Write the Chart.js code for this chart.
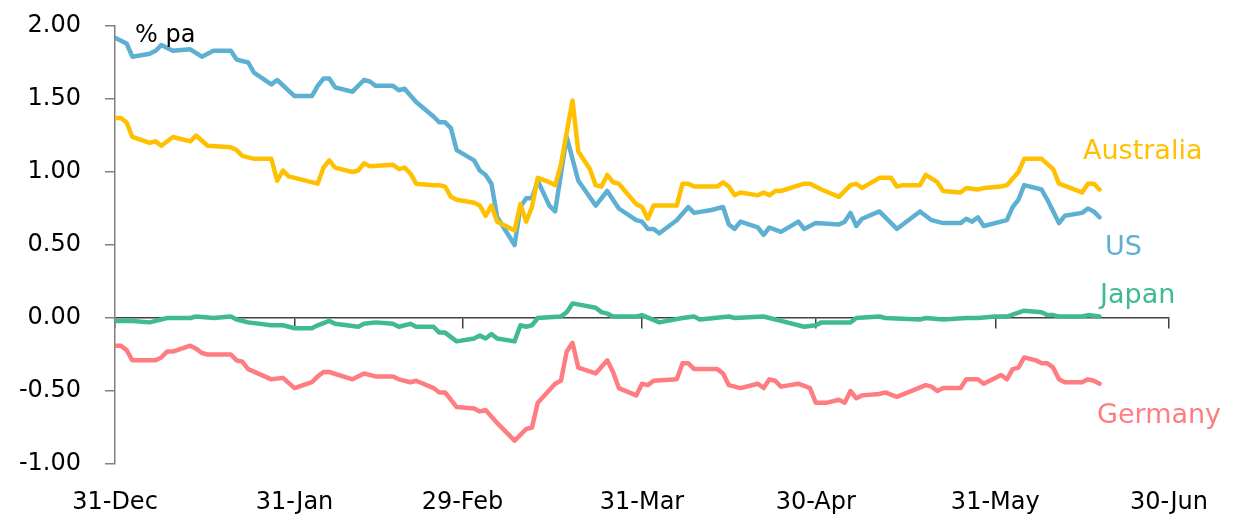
<!DOCTYPE html>
<html>
<head>
<meta charset="utf-8">
<script src="https://cdn.jsdelivr.net/npm/chart.js@4.4.1/dist/chart.umd.min.js"></script>
<style>
  html, body { margin: 0; padding: 0; background: #fff; }
  #wrap { width: 1233px; height: 516px; }
</style>
</head>
<body>
<div id="wrap"><canvas id="yieldChart"></canvas></div>
<script>
// x values are days since 31-Dec
const tickDays = [0, 31, 60, 91, 121, 152, 182];
const tickLabels = ['31-Dec', '31-Jan', '29-Feb', '31-Mar', '30-Apr', '31-May', '30-Jun'];

const usDays = [0, 2, 3, 6, 7, 8, 10, 13, 15, 17, 20, 21, 23, 24, 27, 28, 31, 34, 35, 36, 37, 38, 41, 43, 44, 45, 48, 49, 50, 52, 55, 56, 57, 58, 59, 62, 63, 64, 65, 66, 69, 70, 71, 72, 73, 75, 76, 78, 80, 83, 85, 87, 90, 91, 92, 93, 94, 97, 99, 100, 103, 105, 106, 107, 108, 111, 112, 113, 115, 118, 119, 121, 125, 126, 127, 128, 129, 132, 135, 139, 141, 143, 146, 147, 148, 149, 150, 154, 155, 156, 157, 160, 161, 163, 164, 167, 168, 169, 170];
const usYields = [1.92, 1.88, 1.79, 1.81, 1.83, 1.87, 1.83, 1.84, 1.79, 1.83, 1.83, 1.77, 1.75, 1.68, 1.60, 1.63, 1.52, 1.52, 1.59, 1.64, 1.64, 1.58, 1.55, 1.63, 1.62, 1.59, 1.59, 1.56, 1.57, 1.48, 1.38, 1.34, 1.34, 1.30, 1.15, 1.08, 1.01, 0.98, 0.92, 0.69, 0.50, 0.76, 0.82, 0.82, 0.94, 0.77, 0.73, 1.24, 0.94, 0.77, 0.87, 0.75, 0.67, 0.66, 0.61, 0.61, 0.58, 0.67, 0.76, 0.72, 0.74, 0.76, 0.64, 0.61, 0.66, 0.62, 0.57, 0.62, 0.59, 0.66, 0.61, 0.65, 0.64, 0.66, 0.72, 0.63, 0.68, 0.73, 0.61, 0.73, 0.67, 0.65, 0.65, 0.68, 0.66, 0.69, 0.63, 0.67, 0.76, 0.81, 0.91, 0.88, 0.81, 0.65, 0.70, 0.72, 0.75, 0.73, 0.69];

const ausDays = [0, 1, 2, 3, 6, 7, 8, 10, 13, 14, 16, 20, 21, 22, 24, 27, 28, 29, 30, 35, 36, 37, 38, 41, 42, 43, 44, 48, 49, 50, 51, 52, 55, 56, 57, 58, 59, 62, 63, 64, 65, 66, 69, 70, 71, 72, 73, 75, 76, 77, 79, 80, 82, 83, 84, 85, 86, 87, 90, 91, 92, 93, 97, 98, 99, 100, 104, 105, 106, 107, 108, 111, 112, 113, 114, 115, 119, 120, 122, 125, 127, 128, 129, 132, 134, 135, 136, 139, 140, 142, 143, 146, 147, 149, 150, 153, 154, 156, 157, 160, 162, 163, 167, 168, 169, 170];
const ausYields = [1.37, 1.37, 1.34, 1.24, 1.20, 1.21, 1.18, 1.24, 1.21, 1.25, 1.18, 1.17, 1.15, 1.11, 1.09, 1.09, 0.94, 1.01, 0.97, 0.92, 1.03, 1.08, 1.03, 1.00, 1.01, 1.06, 1.04, 1.05, 1.02, 1.03, 0.99, 0.92, 0.91, 0.91, 0.90, 0.83, 0.81, 0.79, 0.77, 0.70, 0.77, 0.66, 0.60, 0.78, 0.66, 0.76, 0.96, 0.93, 0.91, 1.05, 1.49, 1.14, 1.02, 0.91, 0.90, 0.98, 0.93, 0.92, 0.78, 0.76, 0.68, 0.77, 0.77, 0.92, 0.92, 0.90, 0.90, 0.93, 0.90, 0.84, 0.86, 0.84, 0.86, 0.84, 0.87, 0.87, 0.92, 0.92, 0.88, 0.83, 0.91, 0.92, 0.89, 0.96, 0.96, 0.90, 0.91, 0.91, 0.98, 0.93, 0.87, 0.86, 0.89, 0.88, 0.89, 0.90, 0.91, 1.00, 1.09, 1.09, 1.02, 0.92, 0.86, 0.92, 0.92, 0.88];

const jpDays = [0, 3, 6, 7, 9, 13, 14, 17, 20, 21, 23, 27, 29, 31, 34, 35, 37, 38, 42, 43, 45, 48, 49, 51, 52, 55, 56, 57, 59, 62, 63, 64, 65, 66, 69, 70, 71, 72, 73, 77, 78, 79, 83, 84, 85, 86, 90, 91, 94, 98, 100, 101, 106, 107, 112, 113, 115, 119, 121, 122, 127, 128, 132, 133, 139, 140, 143, 147, 149, 152, 154, 157, 160, 161, 162, 163, 167, 168, 170];
const jpYields = [-0.02, -0.02, -0.03, -0.02, 0.00, 0.00, 0.01, 0.00, 0.01, -0.01, -0.03, -0.05, -0.05, -0.07, -0.07, -0.05, -0.02, -0.04, -0.06, -0.04, -0.03, -0.04, -0.06, -0.04, -0.06, -0.06, -0.10, -0.10, -0.16, -0.14, -0.12, -0.14, -0.11, -0.14, -0.16, -0.05, -0.06, -0.05, 0.00, 0.01, 0.04, 0.10, 0.07, 0.04, 0.03, 0.01, 0.01, 0.02, -0.03, 0.00, 0.01, -0.01, 0.01, 0.00, 0.01, 0.00, -0.02, -0.06, -0.05, -0.03, -0.03, 0.00, 0.01, 0.00, -0.01, 0.00, -0.01, 0.00, 0.00, 0.01, 0.01, 0.05, 0.04, 0.02, 0.02, 0.01, 0.01, 0.02, 0.01];

const deDays = [0, 1, 2, 3, 7, 8, 9, 10, 13, 14, 15, 16, 20, 21, 22, 23, 27, 29, 31, 34, 35, 36, 37, 41, 43, 45, 48, 49, 51, 52, 55, 56, 57, 59, 62, 63, 64, 66, 69, 71, 72, 73, 76, 77, 78, 79, 80, 83, 85, 86, 87, 90, 91, 92, 93, 97, 98, 99, 100, 104, 105, 106, 108, 111, 112, 113, 114, 115, 118, 120, 121, 123, 125, 126, 127, 128, 129, 132, 133, 135, 140, 141, 142, 143, 146, 147, 149, 150, 153, 154, 155, 156, 157, 159, 160, 161, 162, 163, 164, 167, 168, 169, 170];
const deYields = [-0.19, -0.19, -0.22, -0.29, -0.29, -0.27, -0.23, -0.23, -0.19, -0.21, -0.24, -0.25, -0.25, -0.29, -0.30, -0.35, -0.42, -0.41, -0.48, -0.44, -0.40, -0.37, -0.37, -0.42, -0.38, -0.40, -0.40, -0.42, -0.44, -0.43, -0.48, -0.51, -0.51, -0.61, -0.62, -0.64, -0.63, -0.72, -0.84, -0.76, -0.75, -0.58, -0.45, -0.43, -0.23, -0.17, -0.34, -0.38, -0.29, -0.37, -0.48, -0.53, -0.45, -0.46, -0.43, -0.42, -0.31, -0.31, -0.35, -0.35, -0.38, -0.46, -0.48, -0.45, -0.48, -0.42, -0.43, -0.47, -0.45, -0.48, -0.58, -0.58, -0.56, -0.58, -0.50, -0.55, -0.53, -0.52, -0.51, -0.54, -0.46, -0.47, -0.50, -0.48, -0.48, -0.42, -0.42, -0.45, -0.39, -0.42, -0.35, -0.34, -0.27, -0.29, -0.31, -0.31, -0.34, -0.42, -0.44, -0.44, -0.42, -0.43, -0.45];

const toPoints = (days, vals) => days.map((d, i) => ({ x: d, y: vals[i] }));

const FONT = '"DejaVu Sans", sans-serif';

// series names written at the right-hand end of the chart
const seriesLabels = {
    id: 'seriesLabels',
    afterDraw(chart) {
        const ctx = chart.ctx;
        ctx.save();
        ctx.textBaseline = 'alphabetic';
        ctx.textAlign = 'left';
        ctx.font = '27px ' + FONT;
        const items = [
            ['Australia', '#ffc000', 1083, 159],
            ['US', '#5eb0d3', 1105, 255],
            ['Japan', '#3fba92', 1100, 303],
            ['Germany', '#ff7c80', 1097, 423]
        ];
        items.forEach(([t, c, x, y]) => { ctx.fillStyle = c; ctx.fillText(t, x, y); });
        ctx.font = '24px ' + FONT;
        ctx.fillStyle = '#000';
        ctx.fillText('% pa', 135, 42);
        ctx.restore();
    }
};

const setDayTicks = (scale) => {
    scale.ticks = tickDays.map(v => ({ value: v }));
};

const ctx = document.getElementById('yieldChart').getContext('2d');
const yieldChart = new Chart(ctx, {
    type: 'line',
    data: {
        datasets: [
            { label: 'Australia', data: toPoints(ausDays, ausYields), borderColor: '#ffc000' },
            { label: 'US', data: toPoints(usDays, usYields), borderColor: '#5eb0d3' },
            { label: 'Japan', data: toPoints(jpDays, jpYields), borderColor: '#3fba92' },
            { label: 'Germany', data: toPoints(deDays, deYields), borderColor: '#ff7c80' }
        ]
    },
    options: {
        responsive: true,
        maintainAspectRatio: false,
        animation: false,
        layout: { padding: { top: 26, right: 64, left: 0, bottom: 0 } },
        elements: {
            point: { radius: 0 },
            line: { borderWidth: 4.5, tension: 0, borderJoinStyle: 'round', borderCapStyle: 'round' }
        },
        plugins: {
            legend: { display: false },
            tooltip: { enabled: false }
        },
        scales: {
            x: {
                type: 'linear',
                min: 0,
                max: 182,
                position: 'bottom',
                afterBuildTicks: setDayTicks,
                afterFit: (scale) => {
                    scale.height = 52;
                    scale.paddingLeft = 0;
                    scale.paddingRight = 0;
                },
                grid: { display: false },
                border: { display: false },
                ticks: {
                    font: { family: FONT, size: 24 },
                    color: '#000',
                    padding: 16,
                    maxRotation: 0,
                    autoSkip: false,
                    callback: (v) => tickLabels[tickDays.indexOf(v)]
                }
            },
            x2: {
                type: 'linear',
                axis: 'x',
                min: 0,
                max: 182,
                position: { y: 0 },
                afterBuildTicks: setDayTicks,
                grid: { drawOnChartArea: false, drawTicks: true, tickLength: 10, color: '#404040', lineWidth: 1.5 },
                border: { display: true, color: '#404040', width: 1.5 },
                ticks: { display: false }
            },
            y: {
                min: -1,
                max: 2,
                afterFit: (scale) => {
                    scale.width = 115;
                    scale.paddingTop = 0;
                    scale.paddingBottom = 0;
                },
                grid: { drawOnChartArea: false, tickLength: 10, color: '#808080', lineWidth: 1.5 },
                border: { display: true, color: '#808080', width: 1.5 },
                ticks: {
                    stepSize: 0.5,
                    font: { family: FONT, size: 24 },
                    color: '#000',
                    padding: 24,
                    callback: (v) => v.toFixed(2)
                }
            }
        }
    },
    plugins: [seriesLabels]
});
</script>
</body>
</html>
